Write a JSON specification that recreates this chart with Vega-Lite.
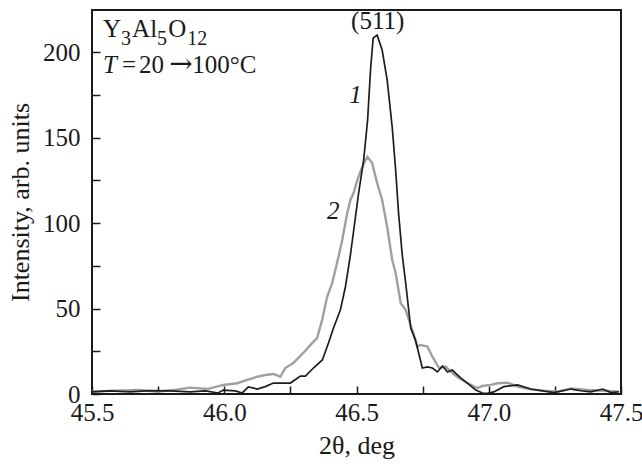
{
  "$schema": "https://vega.github.io/schema/vega-lite/v6.json",
  "width": 529,
  "height": 384,
  "autosize": {"type": "none"},
  "padding": {"left": 92, "top": 10, "right": 21, "bottom": 72},
  "background": "white",
  "config": {
    "view": {"stroke": "#1a1a1a", "strokeWidth": 2},
    "font": "Liberation Serif",
    "axis": {
      "grid": false,
      "domain": false,
      "ticks": true,
      "zindex": 1,
      "offset": -8,
      "tickColor": "#1a1a1a",
      "tickWidth": 1.5,
      "tickSize": 8,
      "labelFont": "Liberation Serif",
      "labelFontSize": 25,
      "labelColor": "#1a1a1a",
      "titleFont": "Liberation Serif",
      "titleFontWeight": "normal",
      "titleColor": "#1a1a1a"
    }
  },
  "datasets": {
    "curves": [
      {"series": "1", "theta": 45.5, "intensity": 1.2},
      {"series": "1", "theta": 45.568, "intensity": 1.8},
      {"series": "1", "theta": 45.644, "intensity": 1.2},
      {"series": "1", "theta": 45.72, "intensity": 2.0},
      {"series": "1", "theta": 45.795, "intensity": 1.8},
      {"series": "1", "theta": 45.871, "intensity": 1.2},
      {"series": "1", "theta": 45.928, "intensity": 1.8},
      {"series": "1", "theta": 45.977, "intensity": 0.6},
      {"series": "1", "theta": 45.996, "intensity": 2.3},
      {"series": "1", "theta": 46.042, "intensity": 1.8},
      {"series": "1", "theta": 46.068, "intensity": 0.6},
      {"series": "1", "theta": 46.091, "intensity": 4.1},
      {"series": "1", "theta": 46.125, "intensity": 2.9},
      {"series": "1", "theta": 46.155, "intensity": 4.3},
      {"series": "1", "theta": 46.186, "intensity": 6.4},
      {"series": "1", "theta": 46.231, "intensity": 6.4},
      {"series": "1", "theta": 46.25, "intensity": 6.4},
      {"series": "1", "theta": 46.288, "intensity": 10.5},
      {"series": "1", "theta": 46.307, "intensity": 10.5},
      {"series": "1", "theta": 46.337, "intensity": 15.2},
      {"series": "1", "theta": 46.371, "intensity": 19.9},
      {"series": "1", "theta": 46.394, "intensity": 29.8},
      {"series": "1", "theta": 46.413, "intensity": 38.6},
      {"series": "1", "theta": 46.439, "intensity": 49.1},
      {"series": "1", "theta": 46.458, "intensity": 62.6},
      {"series": "1", "theta": 46.477, "intensity": 81.3},
      {"series": "1", "theta": 46.508, "intensity": 117.5},
      {"series": "1", "theta": 46.527, "intensity": 136.8},
      {"series": "1", "theta": 46.542, "intensity": 160.2},
      {"series": "1", "theta": 46.553, "intensity": 189.5},
      {"series": "1", "theta": 46.563, "intensity": 208.2},
      {"series": "1", "theta": 46.578, "intensity": 209.9},
      {"series": "1", "theta": 46.597, "intensity": 201.2},
      {"series": "1", "theta": 46.616, "intensity": 183.6},
      {"series": "1", "theta": 46.635, "intensity": 156.1},
      {"series": "1", "theta": 46.648, "intensity": 131.0},
      {"series": "1", "theta": 46.659, "intensity": 105.8},
      {"series": "1", "theta": 46.673, "intensity": 81.3},
      {"series": "1", "theta": 46.686, "intensity": 64.9},
      {"series": "1", "theta": 46.705, "intensity": 38.6},
      {"series": "1", "theta": 46.723, "intensity": 31.6},
      {"series": "1", "theta": 46.735, "intensity": 24.0},
      {"series": "1", "theta": 46.749, "intensity": 15.2},
      {"series": "1", "theta": 46.768, "intensity": 15.8},
      {"series": "1", "theta": 46.787, "intensity": 15.2},
      {"series": "1", "theta": 46.806, "intensity": 12.9},
      {"series": "1", "theta": 46.825, "intensity": 16.4},
      {"series": "1", "theta": 46.844, "intensity": 12.9},
      {"series": "1", "theta": 46.862, "intensity": 14.0},
      {"series": "1", "theta": 46.894, "intensity": 9.4},
      {"series": "1", "theta": 46.919, "intensity": 6.4},
      {"series": "1", "theta": 46.951, "intensity": 2.3},
      {"series": "1", "theta": 46.976, "intensity": 0.6},
      {"series": "1", "theta": 46.995, "intensity": 0.4},
      {"series": "1", "theta": 47.019, "intensity": 1.2},
      {"series": "1", "theta": 47.057, "intensity": 4.3},
      {"series": "1", "theta": 47.109, "intensity": 5.3},
      {"series": "1", "theta": 47.159, "intensity": 2.9},
      {"series": "1", "theta": 47.246, "intensity": 0.8},
      {"series": "1", "theta": 47.311, "intensity": 2.9},
      {"series": "1", "theta": 47.348, "intensity": 1.9},
      {"series": "1", "theta": 47.386, "intensity": 1.3},
      {"series": "1", "theta": 47.431, "intensity": 2.9},
      {"series": "1", "theta": 47.462, "intensity": 0.8},
      {"series": "1", "theta": 47.492, "intensity": 1.3},
      {"series": "2", "theta": 45.5, "intensity": 1.5},
      {"series": "2", "theta": 45.587, "intensity": 2.0},
      {"series": "2", "theta": 45.682, "intensity": 2.3},
      {"series": "2", "theta": 45.746, "intensity": 1.3},
      {"series": "2", "theta": 45.807, "intensity": 2.3},
      {"series": "2", "theta": 45.871, "intensity": 3.7},
      {"series": "2", "theta": 45.936, "intensity": 2.9},
      {"series": "2", "theta": 45.996, "intensity": 5.3},
      {"series": "2", "theta": 46.049, "intensity": 6.3},
      {"series": "2", "theta": 46.087, "intensity": 8.2},
      {"series": "2", "theta": 46.125, "intensity": 10.1},
      {"series": "2", "theta": 46.155, "intensity": 11.1},
      {"series": "2", "theta": 46.186, "intensity": 11.7},
      {"series": "2", "theta": 46.212, "intensity": 10.1},
      {"series": "2", "theta": 46.231, "intensity": 15.2},
      {"series": "2", "theta": 46.261, "intensity": 18.1},
      {"series": "2", "theta": 46.299, "intensity": 24.0},
      {"series": "2", "theta": 46.326, "intensity": 28.7},
      {"series": "2", "theta": 46.351, "intensity": 32.7},
      {"series": "2", "theta": 46.37, "intensity": 43.3},
      {"series": "2", "theta": 46.389, "intensity": 56.9},
      {"series": "2", "theta": 46.408, "intensity": 64.9},
      {"series": "2", "theta": 46.42, "intensity": 72.5},
      {"series": "2", "theta": 46.432, "intensity": 80.3},
      {"series": "2", "theta": 46.446, "intensity": 90.1},
      {"series": "2", "theta": 46.465, "intensity": 105.8},
      {"series": "2", "theta": 46.477, "intensity": 113.5},
      {"series": "2", "theta": 46.489, "intensity": 117.5},
      {"series": "2", "theta": 46.503, "intensity": 125.1},
      {"series": "2", "theta": 46.522, "intensity": 132.9},
      {"series": "2", "theta": 46.541, "intensity": 138.8},
      {"series": "2", "theta": 46.559, "intensity": 135.1},
      {"series": "2", "theta": 46.578, "intensity": 123.4},
      {"series": "2", "theta": 46.597, "intensity": 113.5},
      {"series": "2", "theta": 46.616, "intensity": 97.7},
      {"series": "2", "theta": 46.635, "intensity": 78.4},
      {"series": "2", "theta": 46.648, "intensity": 70.8},
      {"series": "2", "theta": 46.667, "intensity": 53.2},
      {"series": "2", "theta": 46.686, "intensity": 49.1},
      {"series": "2", "theta": 46.711, "intensity": 37.4},
      {"series": "2", "theta": 46.73, "intensity": 27.7},
      {"series": "2", "theta": 46.742, "intensity": 28.7},
      {"series": "2", "theta": 46.768, "intensity": 27.7},
      {"series": "2", "theta": 46.787, "intensity": 21.8},
      {"series": "2", "theta": 46.812, "intensity": 15.2},
      {"series": "2", "theta": 46.837, "intensity": 16.0},
      {"series": "2", "theta": 46.862, "intensity": 12.3},
      {"series": "2", "theta": 46.887, "intensity": 9.4},
      {"series": "2", "theta": 46.919, "intensity": 6.4},
      {"series": "2", "theta": 46.957, "intensity": 3.5},
      {"series": "2", "theta": 46.976, "intensity": 4.7},
      {"series": "2", "theta": 47.008, "intensity": 5.3},
      {"series": "2", "theta": 47.033, "intensity": 6.3},
      {"series": "2", "theta": 47.071, "intensity": 6.6},
      {"series": "2", "theta": 47.109, "intensity": 4.3},
      {"series": "2", "theta": 47.159, "intensity": 2.7},
      {"series": "2", "theta": 47.208, "intensity": 1.9},
      {"series": "2", "theta": 47.26, "intensity": 1.3},
      {"series": "2", "theta": 47.311, "intensity": 3.3},
      {"series": "2", "theta": 47.374, "intensity": 2.3},
      {"series": "2", "theta": 47.436, "intensity": 1.9},
      {"series": "2", "theta": 47.492, "intensity": 1.3}
    ],
    "notes": [
      {"theta": 45.5417, "intensity": 208.8, "label": "Y", "kind": "main"},
      {"theta": 45.6098, "intensity": 204.1, "label": "3", "kind": "sub"},
      {"theta": 45.6515, "intensity": 208.8, "label": "Al", "kind": "main"},
      {"theta": 45.7462, "intensity": 204.1, "label": "5", "kind": "sub"},
      {"theta": 45.7879, "intensity": 208.8, "label": "O", "kind": "main"},
      {"theta": 45.8598, "intensity": 204.1, "label": "12", "kind": "sub"},
      {"theta": 45.5417, "intensity": 187.9, "label": "T", "kind": "italicLeft"},
      {"theta": 45.6136, "intensity": 187.9, "label": "=", "kind": "main"},
      {"theta": 45.6780, "intensity": 187.9, "label": "20", "kind": "main"},
      {"theta": 45.7917, "intensity": 187.9, "label": "→", "kind": "arrow"},
      {"theta": 45.8788, "intensity": 187.9, "label": "100°C", "kind": "main"},
      {"theta": 46.58, "intensity": 213.5, "label": "(511)", "kind": "peak"},
      {"theta": 46.496, "intensity": 170.2, "label": "1", "kind": "num"},
      {"theta": 46.412, "intensity": 102.3, "label": "2", "kind": "num"}
    ]
  },
  "layer": [
    {
      "data": {"name": "curves"},
      "transform": [{"filter": "datum.series == '2'"}],
      "mark": {"type": "line", "color": "#a0a0a0", "strokeWidth": 2.4, "clip": true},
      "encoding": {
        "x": {
          "field": "theta", "type": "quantitative",
          "scale": {"domain": [45.5, 47.5], "nice": false, "zero": false},
          "axis": {
            "title": "2θ, deg",
            "titleFontSize": 26,
            "values": [45.5, 45.75, 46.0, 46.25, 46.5, 46.75, 47.0, 47.25, 47.5],
            "labelExpr": "(round(datum.value * 4) % 2 == 0) ? format(datum.value, '.1f') : ''",
            "labelPadding": 6,
            "titlePadding": 7,
            "labelFlush": false
          }
        },
        "y": {
          "field": "intensity", "type": "quantitative",
          "scale": {"domain": [0, 224.6], "nice": false},
          "axis": {
            "title": "Intensity, arb. units",
            "titleFontSize": 26,
            "values": [0, 25, 50, 75, 100, 125, 150, 175, 200],
            "labelExpr": "(datum.value % 50 == 0) ? datum.value : ''",
            "labelPadding": 12,
            "titlePadding": 9,
            "labelFlush": false
          }
        }
      }
    },
    {
      "data": {"name": "curves"},
      "transform": [{"filter": "datum.series == '1'"}],
      "mark": {"type": "line", "color": "#1e1e1e", "strokeWidth": 1.7, "clip": true},
      "encoding": {
        "x": {"field": "theta", "type": "quantitative"},
        "y": {"field": "intensity", "type": "quantitative"}
      }
    },
    {
      "data": {"name": "notes"},
      "transform": [{"filter": "datum.kind == 'main'"}],
      "mark": {"type": "text", "font": "Liberation Serif", "fontSize": 25, "align": "left", "baseline": "alphabetic", "color": "#1a1a1a"},
      "encoding": {
        "x": {"field": "theta", "type": "quantitative"},
        "y": {"field": "intensity", "type": "quantitative"},
        "text": {"field": "label"}
      }
    },
    {
      "data": {"name": "notes"},
      "transform": [{"filter": "datum.kind == 'sub'"}],
      "mark": {"type": "text", "font": "Liberation Serif", "fontSize": 20, "align": "left", "baseline": "alphabetic", "color": "#1a1a1a"},
      "encoding": {
        "x": {"field": "theta", "type": "quantitative"},
        "y": {"field": "intensity", "type": "quantitative"},
        "text": {"field": "label"}
      }
    },
    {
      "data": {"name": "notes"},
      "transform": [{"filter": "datum.kind == 'arrow'"}],
      "mark": {"type": "text", "font": "DejaVu Serif", "fontSize": 28, "align": "left", "baseline": "alphabetic", "color": "#1a1a1a"},
      "encoding": {
        "x": {"field": "theta", "type": "quantitative"},
        "y": {"field": "intensity", "type": "quantitative"},
        "text": {"field": "label"}
      }
    },
    {
      "data": {"name": "notes"},
      "transform": [{"filter": "datum.kind == 'italicLeft'"}],
      "mark": {"type": "text", "font": "Liberation Serif", "fontSize": 25, "fontStyle": "italic", "align": "left", "baseline": "alphabetic", "color": "#1a1a1a"},
      "encoding": {
        "x": {"field": "theta", "type": "quantitative"},
        "y": {"field": "intensity", "type": "quantitative"},
        "text": {"field": "label"}
      }
    },
    {
      "data": {"name": "notes"},
      "transform": [{"filter": "datum.kind == 'peak'"}],
      "mark": {"type": "text", "font": "Liberation Serif", "fontSize": 25, "align": "center", "baseline": "alphabetic", "color": "#1a1a1a"},
      "encoding": {
        "x": {"field": "theta", "type": "quantitative"},
        "y": {"field": "intensity", "type": "quantitative"},
        "text": {"field": "label"}
      }
    },
    {
      "data": {"name": "notes"},
      "transform": [{"filter": "datum.kind == 'num'"}],
      "mark": {"type": "text", "font": "Liberation Serif", "fontSize": 25, "fontStyle": "italic", "align": "center", "baseline": "alphabetic", "color": "#1a1a1a"},
      "encoding": {
        "x": {"field": "theta", "type": "quantitative"},
        "y": {"field": "intensity", "type": "quantitative"},
        "text": {"field": "label"}
      }
    }
  ]
}
